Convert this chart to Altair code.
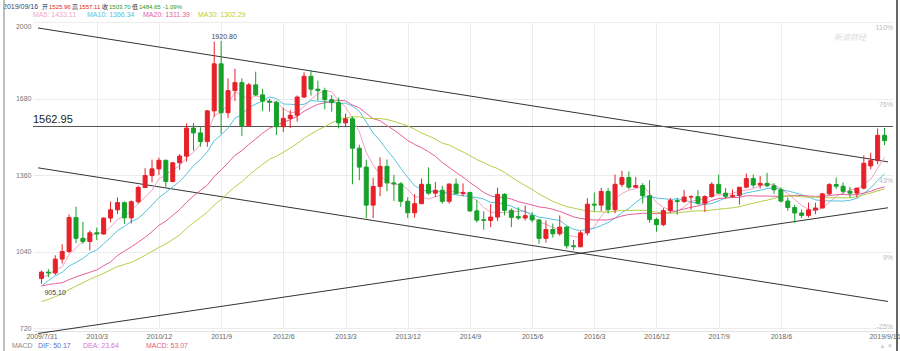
import altair as alt
import pandas as pd

# ---------------- data (monthly candles 2009/7 .. 2019/9) ----------------
months = []
_y, _m = 2009, 7
for _i in range(123):
    months.append(f"{_y}/{_m}")
    _m += 1
    if _m > 12:
        _m = 1
        _y += 1

opens = [
    927.0, 953.7, 950.2, 1008.3, 1040.0, 1181.9, 1095.2, 1081.9, 1118.1, 1113.2,
    1179.9, 1214.4, 1244.5, 1180.7, 1248.1, 1307.8, 1357.6, 1385.6, 1421.4, 1332.8,
    1411.0, 1439.0, 1556.4, 1536.2, 1500.2, 1628.3, 1825.0, 1620.4, 1713.0, 1746.6,
    1566.0, 1737.0, 1695.0, 1669.0, 1664.0, 1562.0, 1597.0, 1610.0, 1686.0, 1773.0,
    1719.0, 1713.0, 1675.0, 1663.0, 1578.0, 1595.0, 1472.0, 1393.0, 1234.0, 1312.0,
    1396.0, 1327.0, 1323.0, 1250.0, 1202.0, 1240.0, 1321.0, 1284.0, 1296.0, 1250.0,
    1322.0, 1282.0, 1287.0, 1210.0, 1173.0, 1170.0, 1184.0, 1279.0, 1212.0, 1186.0,
    1180.0, 1190.0, 1172.0, 1095.0, 1132.0, 1114.0, 1142.0, 1064.0, 1060.0, 1118.0,
    1238.0, 1234.0, 1291.0, 1215.0, 1321.0, 1349.0, 1309.0, 1316.0, 1273.0, 1174.0,
    1152.0, 1211.0, 1253.0, 1249.0, 1268.0, 1269.0, 1242.0, 1270.0, 1321.0, 1284.0,
    1271.0, 1275.0, 1309.0, 1345.0, 1318.0, 1325.0, 1315.0, 1298.0, 1251.0, 1224.0,
    1201.0, 1191.0, 1214.0, 1222.0, 1281.0, 1320.0, 1313.0, 1292.0, 1284.0, 1305.0,
    1398.0, 1420.0, 1525.96]

highs = [
    960.0, 966.5, 1024.2, 1070.4, 1195.1, 1227.5, 1163.5, 1128.0, 1140.0, 1182.5,
    1249.0, 1265.8, 1249.0, 1254.0, 1315.0, 1388.1, 1424.3, 1432.5, 1424.5, 1414.8,
    1447.4, 1575.8, 1577.4, 1560.0, 1632.0, 1917.9, 1920.8, 1764.5, 1804.0, 1764.0,
    1745.0, 1792.0, 1720.0, 1680.0, 1671.0, 1641.0, 1631.0, 1693.0, 1790.0, 1798.0,
    1755.0, 1725.0, 1694.0, 1684.0, 1617.0, 1605.0, 1487.0, 1424.0, 1348.0, 1434.0,
    1425.0, 1361.0, 1330.0, 1267.0, 1280.0, 1345.0, 1392.0, 1331.0, 1315.0, 1325.0,
    1345.0, 1325.0, 1290.0, 1255.0, 1208.0, 1238.0, 1307.0, 1284.0, 1220.0, 1225.0,
    1232.0, 1205.0, 1175.0, 1170.0, 1157.0, 1191.0, 1146.0, 1088.0, 1127.0, 1263.0,
    1287.0, 1306.0, 1305.0, 1362.0, 1377.0, 1375.0, 1352.0, 1326.0, 1338.0, 1181.0,
    1221.0, 1264.0, 1264.0, 1297.0, 1275.0, 1297.0, 1275.0, 1330.0, 1362.0, 1306.0,
    1299.0, 1310.0, 1366.0, 1362.0, 1356.0, 1369.0, 1326.0, 1309.0, 1266.0, 1236.0,
    1215.0, 1245.0, 1244.0, 1285.0, 1326.0, 1349.0, 1329.0, 1310.0, 1307.0, 1442.0,
    1453.0, 1555.0, 1557.11]

lows = [
    905.1, 932.0, 942.2, 990.0, 1033.0, 1075.2, 1072.0, 1044.5, 1088.0, 1111.0,
    1162.0, 1196.4, 1155.8, 1157.0, 1239.8, 1305.0, 1330.0, 1360.0, 1308.8, 1330.0,
    1381.0, 1415.7, 1462.0, 1478.0, 1478.0, 1603.0, 1532.0, 1598.0, 1670.0, 1523.0,
    1561.0, 1690.0, 1627.0, 1626.0, 1527.0, 1540.0, 1556.0, 1583.0, 1682.0, 1692.0,
    1672.0, 1635.0, 1625.0, 1555.0, 1560.0, 1321.0, 1338.0, 1180.0, 1180.0, 1271.0,
    1292.0, 1251.0, 1227.0, 1180.0, 1182.0, 1238.0, 1277.0, 1268.0, 1240.0, 1240.0,
    1280.0, 1271.0, 1205.0, 1161.0, 1131.0, 1142.0, 1167.0, 1191.0, 1142.0, 1172.0,
    1170.0, 1162.0, 1072.0, 1077.0, 1098.0, 1106.0, 1052.0, 1046.0, 1058.0, 1107.0,
    1208.0, 1208.0, 1199.0, 1200.0, 1310.0, 1300.0, 1305.0, 1241.0, 1160.0, 1123.0,
    1146.0, 1203.0, 1194.0, 1244.0, 1214.0, 1236.0, 1205.0, 1265.0, 1281.0, 1260.0,
    1264.0, 1236.0, 1305.0, 1307.0, 1303.0, 1310.0, 1281.0, 1245.0, 1211.0, 1160.0,
    1180.0, 1182.0, 1196.0, 1221.0, 1276.0, 1302.0, 1281.0, 1266.0, 1266.0, 1300.0,
    1384.0, 1405.0, 1484.65]

closes = [
    953.7, 950.2, 1008.3, 1040.0, 1181.9, 1095.2, 1081.9, 1118.1, 1113.2, 1179.9,
    1214.4, 1244.5, 1180.7, 1248.1, 1307.8, 1357.6, 1385.6, 1421.4, 1332.8, 1411.0,
    1439.0, 1556.4, 1536.2, 1500.2, 1628.3, 1825.0, 1620.4, 1713.0, 1746.6, 1566.0,
    1737.0, 1695.0, 1669.0, 1664.0, 1562.0, 1597.0, 1610.0, 1686.0, 1773.0, 1719.0,
    1713.0, 1675.0, 1663.0, 1578.0, 1595.0, 1472.0, 1393.0, 1234.0, 1312.0, 1396.0,
    1327.0, 1323.0, 1250.0, 1202.0, 1240.0, 1321.0, 1284.0, 1296.0, 1250.0, 1322.0,
    1282.0, 1287.0, 1210.0, 1171.0, 1170.0, 1184.0, 1279.0, 1212.0, 1183.0, 1180.0,
    1190.0, 1172.0, 1095.0, 1132.0, 1114.0, 1142.0, 1064.0, 1060.0, 1118.0, 1238.0,
    1234.0, 1291.0, 1215.0, 1321.0, 1349.0, 1309.0, 1316.0, 1273.0, 1174.0, 1152.0,
    1211.0, 1253.0, 1249.0, 1268.0, 1269.0, 1242.0, 1270.0, 1321.0, 1284.0, 1271.0,
    1275.0, 1309.0, 1345.0, 1318.0, 1325.0, 1315.0, 1298.0, 1251.0, 1224.0, 1201.0,
    1191.0, 1214.0, 1222.0, 1281.0, 1320.0, 1313.0, 1292.0, 1284.0, 1305.0, 1409.0,
    1420.0, 1526.0, 1503.7]

# closes of the 29 months before 2009/7 (feed the moving averages only)
pre_closes = [672, 669, 680, 659, 651, 667, 673, 743, 795, 783, 838,
              923, 972, 917, 865, 888, 930, 913, 834, 884, 718, 815, 884,
              928, 942, 917, 891, 979, 927]

assert len(opens) == len(highs) == len(lows) == len(closes) == len(months) == 123
assert len(pre_closes) == 29

tick_months = ["2009/7", "2010/3", "2010/12", "2011/9", "2012/6", "2013/3", "2013/12",
               "2014/9", "2015/6", "2016/3", "2016/12", "2017/9", "2018/6", "2019/9"]
tick_labels = ["2009/7/31", "2010/3", "2010/12", "2011/9", "2012/6", "2013/3", "2013/12",
               "2014/9", "2015/6", "2016/3", "2016/12", "2017/9", "2018/6", "2019/9/16"]
tick_idx = [months.index(t) for t in tick_months]

grid_prices = [720, 1040, 1360, 1680, 2000]
pct_labels = ["-25%", "9%", "43%", "76%", "110%"]

ma_periods = [5, 10, 20, 30]
ma_colors = ["#f5a3c5", "#55c3df", "#e5609a", "#b4cf48"]

level_price = [1562.95]
peak_idx, peak_price = [26], [1920.80]
trough_idx, trough_price = [0], [905.10]

trend_name = ["A", "A", "B", "B", "C", "C"]
trend_x = [-0.5, 122.5, -0.5, 122.5, -0.5, 122.5]
trend_p = [1975, 1415, 1390, 831, 697, 1223]

head_texts = ["2019/09/16", "开", "1525.96", "高", "1557.11", "收", "1503.70", "低", "1484.65", "-1.09%"]
head_colors = ["#2b3f7c", "#333333", "#e02424", "#333333", "#e02424", "#333333",
               "#1c9a1c", "#333333", "#1c9a1c", "#1c9a1c"]
head_x = [3, 42, 49, 72, 79, 102, 109, 132, 139, 163]
head_size = [7, 6, 6, 6, 6, 6, 6, 6, 6, 6]

ma_texts = ["MA5: 1433.11", "MA10: 1366.34", "MA20: 1311.39", "MA30: 1302.29"]
ma_text_x = [33, 87, 143, 198]

macd_texts = ["MACD", "DIF: 50.17", "DEA: 23.64", "MACD: 53.07"]
macd_colors = ["#888888", "#5a6fd6", "#d674d6", "#e0607e"]
macd_x = [12, 38, 83, 146]

# ---------------- chart ----------------
FONT = "Liberation Sans, Noto Sans CJK SC, sans-serif"
RED, GREEN = "#e62129", "#17a02a"
W, H = 860, 306
OX, OY = 33, 22  # plot origin on the page

df_candle = pd.DataFrame({"idx": list(range(123)), "month": months,
                          "o": opens, "h": highs, "l": lows, "c": closes})
df_all = pd.DataFrame({"idx": list(range(-len(pre_closes), 123)), "c": pre_closes + closes})

xscale = alt.Scale(domain=[-0.5, 122.5], nice=False, zero=False)
yscale = alt.Scale(domain=[720, 2000], nice=False, zero=False)

label_expr = " : ".join(f"datum.value == {i} ? '{l}'" for i, l in zip(tick_idx, tick_labels)) + " : ''"
edge_test = f"datum.value == {tick_idx[0]} || datum.value == {tick_idx[-1]}"

xaxis = alt.Axis(values=tick_idx, labelExpr=label_expr, title=None, grid=True,
                 gridColor={"condition": {"test": edge_test, "value": "transparent"}, "value": "#ececec"},
                 ticks=False, domain=True, domainColor="#e2e2e2", offset=3, labelPadding=1,
                 labelFontSize=7, labelColor="#666", labelFont=FONT, labelFlush=5, labelOverlap=False)
yaxis = alt.Axis(values=grid_prices, format="d", title=None, grid=True, gridColor="#ececec", ticks=False,
                 domain=False, labelPadding=2, labelFontSize=7, labelColor="#777", labelFont=FONT,
                 labelBaseline={"condition": {"test": "datum.value >= 2000", "value": "top"},
                                "value": "middle"})


def X(field):
    return alt.X(field, scale=xscale, axis=xaxis, title=None)


def Y(field):
    return alt.Y(field, scale=yscale, axis=yaxis, title=None)


cond = alt.condition("datum.c >= datum.o", alt.value(RED), alt.value(GREEN))

layers = []

# trend lines
df_trend = pd.DataFrame({"line": trend_name, "x": trend_x, "p": trend_p})
layers.append(alt.Chart(df_trend).mark_line(color="#333", strokeWidth=1).encode(
    x=X("x:Q"), y=Y("p:Q"), detail="line:N"))

# horizontal level
df_level = pd.DataFrame({"p": level_price})
layers.append(alt.Chart(df_level).mark_rule(color="#555", strokeWidth=1).encode(y=Y("p:Q")))
layers.append(alt.Chart(df_level).mark_text(align="left", baseline="bottom", dy=-1, fontSize=11,
                                            color="#222", font=FONT).encode(
    x=alt.value(0), y=Y("p:Q"), text=alt.Text("p:Q", format=".2f")))

# moving averages
for period, colr in zip(ma_periods, ma_colors):
    layers.append(alt.Chart(df_all).transform_window(
        ma="mean(c)", frame=[-(period - 1), 0], sort=[alt.SortField("idx", order="ascending")]
    ).transform_filter("datum.idx >= 0").mark_line(color=colr, strokeWidth=1).encode(
        x=X("idx:Q"), y=Y("ma:Q")))

# candles
layers.append(alt.Chart(df_candle).mark_rule(strokeWidth=1).encode(
    x=X("idx:Q"), y=Y("l:Q"), y2="h:Q", color=cond))
layers.append(alt.Chart(df_candle).mark_bar(size=4, strokeWidth=1).encode(
    x=X("idx:Q"), y=Y("o:Q"), y2="c:Q", color=cond, stroke=cond))

# extreme labels
df_peak = pd.DataFrame({"idx": peak_idx, "p": peak_price})
layers.append(alt.Chart(df_peak).mark_text(align="center", baseline="bottom", dx=3, dy=-1,
                                           fontSize=7, color="#444", font=FONT).encode(
    x=X("idx:Q"), y=Y("p:Q"), text=alt.Text("p:Q", format=".2f")))
df_trough = pd.DataFrame({"idx": trough_idx, "p": trough_price})
layers.append(alt.Chart(df_trough).mark_text(align="left", baseline="top", dx=3, dy=5,
                                             fontSize=7, color="#444", font=FONT).encode(
    x=X("idx:Q"), y=Y("p:Q"), text=alt.Text("p:Q", format=".2f")))

# right-hand percent labels (bottom one sits on its line, the others just below theirs)
df_pct = pd.DataFrame({"p": grid_prices, "t": pct_labels})
layers.append(alt.Chart(df_pct).transform_filter("datum.p > 720").mark_text(
    align="right", baseline="top", dy=2, fontSize=7, color="#bbb", font=FONT).encode(
    x=alt.value(W), y=Y("p:Q"), text="t:N"))
layers.append(alt.Chart(df_pct).transform_filter("datum.p <= 720").mark_text(
    align="right", baseline="middle", dy=-1, fontSize=7, color="#bbb", font=FONT).encode(
    x=alt.value(W), y=Y("p:Q"), text="t:N"))

one = pd.DataFrame({"a": [0]})


def page_text(txt, px, py, colr, size=7, align="left", **kw):
    return alt.Chart(one).mark_text(text=txt, align=align, baseline="middle", fontSize=size,
                                    color=colr, font=FONT, **kw).encode(
        x=alt.value(px - OX), y=alt.value(py - OY))


for t, c, x, s in zip(head_texts, head_colors, head_x, head_size):
    layers.append(page_text(t, x, 7, c, size=s))
for t, c, x in zip(ma_texts, ma_colors, ma_text_x):
    layers.append(page_text(t, x, 15, c))
for t, c, x in zip(macd_texts, macd_colors, macd_x):
    layers.append(page_text(t, x, 346, c))
layers.append(page_text("新浪财经", 834, 38, "#dcdcdc", size=8, fontStyle="italic"))
layers.append(page_text("▲ ▼", 893, 346, "#cccccc", size=6, align="right"))

# frame borders of the widget
layers.append(alt.Chart(one).mark_rule(color="#aaaaaa", strokeWidth=1.5).encode(
    x=alt.value(4 - OX), y=alt.value(-OY), y2=alt.value(351 - OY)))
layers.append(alt.Chart(one).mark_rule(color="#666666", strokeWidth=2).encode(
    x=alt.value(897 - OX), y=alt.value(-OY), y2=alt.value(351 - OY)))

chart = alt.layer(*layers).properties(
    width=W, height=H,
    padding={"left": OX, "top": OY, "right": 900 - OX - W, "bottom": 351 - OY - H},
    autosize=alt.AutoSizeParams(type="none"),
    background="white",
).configure_view(stroke=None)

chart.save("out.html", embed_options={"renderer": "svg", "actions": False})
